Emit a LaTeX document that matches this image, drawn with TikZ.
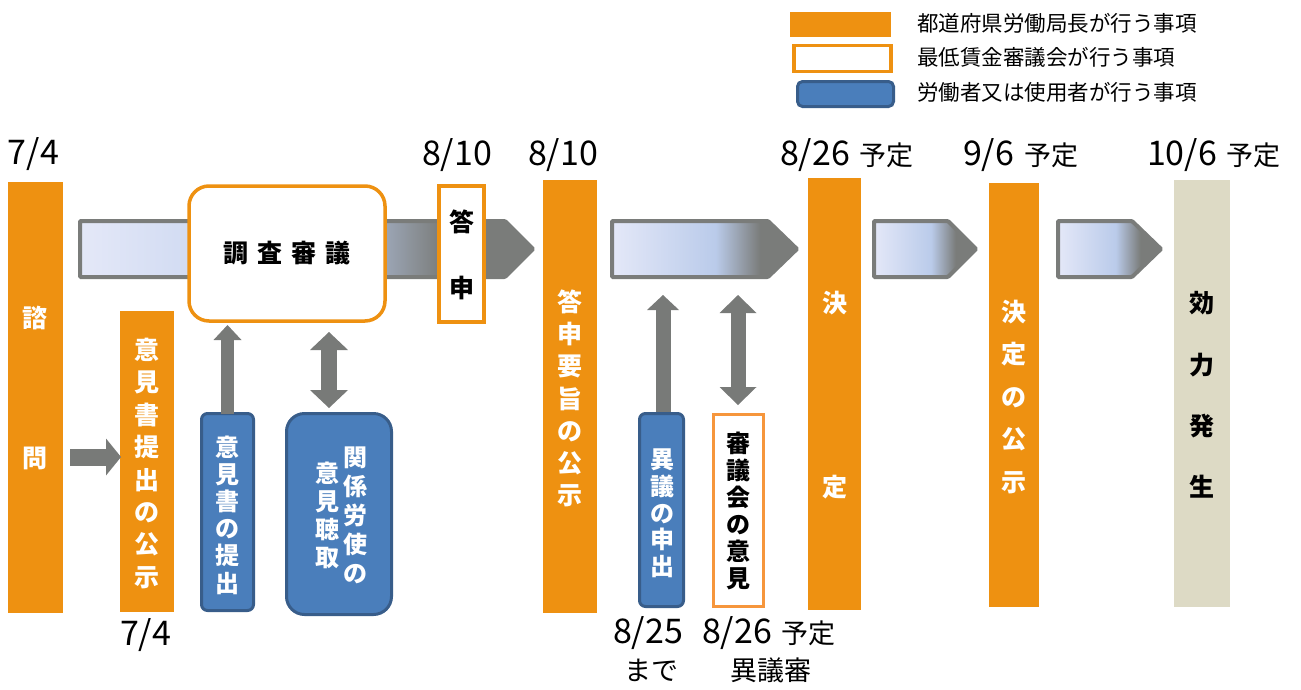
\documentclass[tikz,border=0pt]{standalone}
\usepackage{fontspec}
\setmainfont{Noto Sans CJK JP}
\usetikzlibrary{arrows.meta}
\definecolor{myorange}{RGB}{238,145,17}
\definecolor{lorange}{RGB}{246,150,60}
\definecolor{myblue}{RGB}{74,126,187}
\definecolor{bluebd}{RGB}{56,93,138}
\definecolor{beige}{RGB}{221,218,197}
\definecolor{agray}{RGB}{120,122,120}
\definecolor{sca}{RGB}{228,232,248}
\definecolor{scb}{RGB}{186,203,234}
\definecolor{scc}{RGB}{122,124,122}
\pgfdeclarehorizontalshading{bandshade}{100bp}{color(0bp)=(sca); color(25bp)=(sca); color(53bp)=(scb); color(65bp)=(scc); color(100bp)=(scc)}
\newcommand{\fs}[2]{\fontsize{#1}{#2}\selectfont}
\newcommand{\yt}{\hspace{10pt}{\fs{27}{27}予定}}
\begin{document}
\begin{tikzpicture}[x=1pt,y=-1pt,
  every node/.style={inner sep=0pt,outer sep=0pt},
  obar/.style={fill=myorange,draw=none},
  bbar/.style={fill=beige,draw=none},
  obox/.style={fill=white,draw=myorange,line width=3.5pt},
  lbox/.style={fill=white,draw=lorange,line width=3pt},
  bbox/.style={fill=myblue,draw=bluebd,line width=3pt,rounded corners=6pt},
  wtxt/.style={text=white,align=center,font=\bfseries},
  ktxt/.style={text=black,align=center,font=\bfseries},
  datetxt/.style={anchor=base west,font=\fs{34}{34}},
  yotei/.style={font=\fs{27}{27}},
  band/.style={draw=scc,line width=4pt,shading=bandshade,rounded corners=1pt},
  fat/.style={draw=agray,line width=#1},
  tipA/.style={-{Triangle[length=15pt,width=#1,line width=0pt]}},
  tipB/.style={{Triangle[length=18pt,width=#1,line width=0pt]}-{Triangle[length=18pt,width=#1,line width=0pt]}},
]
\useasboundingbox (0,0) rectangle (1301,689);

% legend
\node[obar,minimum width=101pt,minimum height=25pt] (lg1) at (840.5,24.5) {};
\node[obox,minimum width=97pt,minimum height=26pt] (lg2) at (842.5,58.5) {};
\node[fill=myblue,draw=bluebd,line width=3pt,rounded corners=5pt,minimum width=96pt,minimum height=25pt] (lg3) at (845.5,94) {};
\node[anchor=west,font=\fs{21.5}{22}] (lt1) at (917,23) {都道府県労働局長が行う事項};
\node[anchor=west,font=\fs{21.5}{22}] (lt2) at (917,57) {最低賃金審議会が行う事項};
\node[anchor=west,font=\fs{21.5}{22}] (lt3) at (917,92) {労働者又は使用者が行う事項};

% band arrows
\shadedraw[band] (80,221) -- (505,221) -- (533,249) -- (505,277) -- (80,277) -- cycle;
\shadedraw[band] (612,221) -- (768,221) -- (797,249) -- (768,277) -- (612,277) -- cycle;
\shadedraw[band] (874,221) -- (948,221) -- (976,249) -- (948,277) -- (874,277) -- cycle;
\shadedraw[band] (1058,221) -- (1132,221) -- (1161,249) -- (1132,277) -- (1058,277) -- cycle;

% bars
\node[obar,minimum width=55pt,minimum height=431pt] (shimon) at (35.5,397.5) {};
\node[wtxt,font=\bfseries\fs{25}{140}] (shimonT) at (35.5,388) {諮\\問};
\node[obar,minimum width=54pt,minimum height=301pt] (kokuji1) at (147,461.5) {};
\node[wtxt,font=\bfseries\fs{25}{32.4}] (kokuji1T) at (147,463.5) {意\\見\\書\\提\\出\\の\\公\\示};
\node[obar,minimum width=54pt,minimum height=433pt] (toshin) at (570,396.5) {};
\node[wtxt,font=\bfseries\fs{25}{32.2}] (toshinT) at (570,398.5) {答\\申\\要\\旨\\の\\公\\示};
\node[obar,minimum width=53pt,minimum height=432pt] (kettei) at (834.5,394) {};
\node[wtxt,font=\bfseries\fs{25}{184}] (ketteiT) at (834.5,395) {決\\定};
\node[obar,minimum width=50pt,minimum height=424pt] (kokuji2) at (1014,395) {};
\node[wtxt,font=\bfseries\fs{25}{42.5}] (kokuji2T) at (1014,397) {決\\定\\の\\公\\示};
\node[bbar,minimum width=56pt,minimum height=427pt] (koryoku) at (1202,393.5) {};
\node[ktxt,font=\bfseries\fs{25}{61.3}] (koryokuT) at (1202,395) {効\\力\\発\\生};

% council boxes
\node[obox,rounded corners=20pt,minimum width=196pt,minimum height=135pt] (chosa) at (287,253.5) {};
\node[ktxt,font=\bfseries\fs{25}{25}] (chosaT) at (287,253) {調\hspace{9pt}査\hspace{9pt}審\hspace{9pt}議};
\node[obox,minimum width=45pt,minimum height=136pt] (toshinbox) at (461.5,254) {};
\node[ktxt,font=\bfseries\fs{25}{66}] (toshinboxT) at (461.5,255) {答\\申};

% worker boxes
\node[bbox,minimum width=52pt,minimum height=197pt] (teishutsu) at (227.5,512) {};
\node[wtxt,font=\bfseries\fs{24}{27.2}] (teishutsuT) at (227.5,515) {意\\見\\書\\の\\提\\出};
\node[bbox,rounded corners=18pt,minimum width=105pt,minimum height=201pt] (kankei) at (339,514) {};
\node[wtxt,font=\bfseries\fs{24}{29}] (kankeiR) at (355,515) {関\\係\\労\\使\\の};
\node[wtxt,font=\bfseries\fs{24}{28}] (kankeiL) at (327,515) {意\\見\\聴\\取};
\node[bbox,minimum width=44pt,minimum height=193pt] (igi) at (661.5,510) {};
\node[wtxt,font=\bfseries\fs{24}{26.75}] (igiT) at (662,513.5) {異\\議\\の\\申\\出};
\node[lbox,minimum width=50pt,minimum height=192pt] (shingikai) at (738.5,510.5) {};
\node[ktxt,font=\bfseries\fs{24}{27}] (shingikaiT) at (738,510.5) {審\\議\\会\\の\\意\\見};

% gray arrows
\coordinate (p1) at (70,457);
\coordinate (p2) at (121,457);
\draw[fat=17pt,tipA=37pt] (p1) -- (p2);
\draw[fat=13pt,tipA=28pt,shorten >=4pt] (teishutsu.north) -- (teishutsu.north |- chosa.south);
\coordinate (q1) at (329,412);
\coordinate (q2) at (329,332);
\draw[fat=16pt,tipB=38pt,shorten <=4pt] (q1) -- (q2);
\coordinate (r1) at (663,412);
\coordinate (r2) at (663,295);
\draw[fat=15pt,tipA=32pt] (r1) -- (r2);
\coordinate (s1) at (738,405);
\coordinate (s2) at (738,295);
\draw[fat=15pt,tipB=37pt] (s1) -- (s2);

% dates
\node[datetxt] (d1) at (8,164) {7/4};
\node[datetxt] (d2) at (422,165) {8/10};
\node[datetxt] (d3) at (528,165) {8/10};
\node[datetxt] (d4) at (780,165) {8/26\yt};
\node[datetxt] (d5) at (963,165) {9/6\yt};
\node[datetxt] (d6) at (1147,165) {10/6\yt};
\node[datetxt] (d7) at (120,645) {7/4};
\node[datetxt] (d8) at (613,643) {8/25};
\node[datetxt] (d9) at (702,643) {8/26\yt};
\node[yotei] (d10) at (651,670) {まで};
\node[yotei] (d11) at (771,670) {異議審};
\end{tikzpicture}
\end{document}
